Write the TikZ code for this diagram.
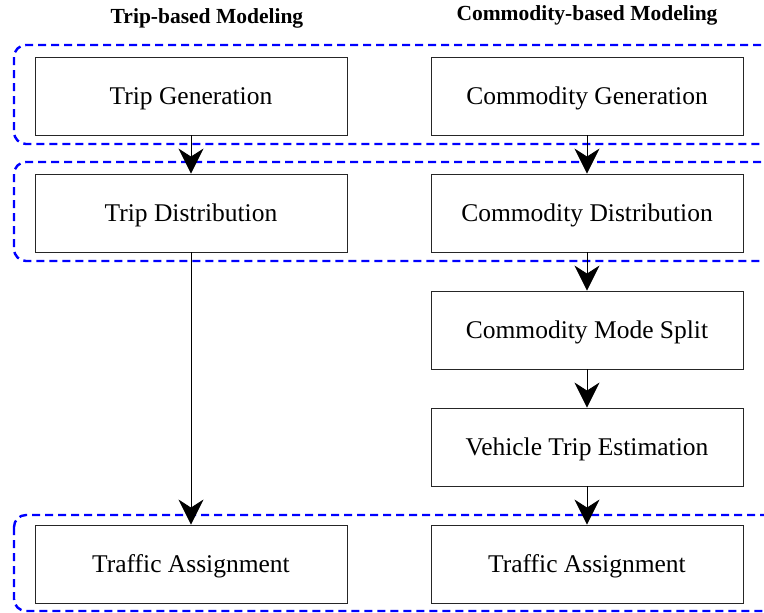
\documentclass[tikz,border=0pt]{standalone}
\usepackage{fontspec}
\setmainfont{Liberation Serif}
\usetikzlibrary{arrows.meta,calc}
\tikzset{
  stepbox/.style={draw=black!85, line width=0.9pt, minimum width=312pt, minimum height=78pt, inner sep=0pt, text depth=0pt, font=\fontsize{25.5}{30}\selectfont},
  title/.style={font=\bfseries\fontsize{21.5}{25}\selectfont, inner sep=0pt},
  group/.style={draw=blue, line width=2.4pt, dash pattern=on 8pt off 5pt, rounded corners=12pt},
  flow/.style={draw=black, line width=0.9pt, -{Stealth[length=25pt, width=25pt, inset=8pt]}}
}
\begin{document}
\begin{tikzpicture}[x=1pt,y=-1pt]
\useasboundingbox (0,0) rectangle (764,613);
\clip (0,0) rectangle (764,613);
\node[title] (t1) at (207,18) {Trip-based Modeling};
\node[title] (t2) at (587,15) {Commodity-based Modeling};
\draw[group] (14,45) rectangle (790,144);
\draw[group] (14,162) rectangle (790,261);
\draw[group] (14,515) rectangle (790,611);
\node[stepbox] (tg) at (191,96) {Trip Generation};
\node[stepbox] (td) at (191,213) {Trip Distribution};
\node[stepbox] (ta1) at (191,564) {Traffic Assignment};
\node[stepbox] (cg) at (587,96) {Commodity Generation};
\node[stepbox] (cd) at (587,213) {Commodity Distribution};
\node[stepbox] (cm) at (587,330) {Commodity Mode Split};
\node[stepbox] (vt) at (587,447) {Vehicle Trip Estimation};
\node[stepbox] (ta2) at (587,564) {Traffic Assignment};
\draw[flow] (tg) -- (td);
\draw[flow] (td) -- (ta1);
\draw[flow] (cg) -- (cd);
\draw[flow] (cd) -- (cm);
\draw[flow] (cm) -- (vt);
\draw[flow] (vt) -- (ta2);
\end{tikzpicture}
\end{document}
